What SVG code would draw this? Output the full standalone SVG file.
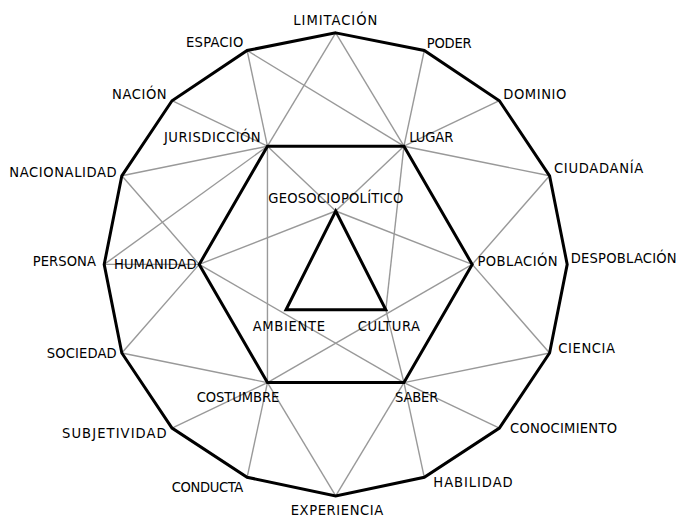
<svg xmlns="http://www.w3.org/2000/svg" width="679" height="517" viewBox="0 0 679 517">
<style>
.bg{fill:#fff}
.c line{stroke:#999;stroke-width:1.4}
.p{fill:none;stroke:#000;stroke-width:3;stroke-linejoin:miter}
text{font-family:"DejaVu Sans Condensed","DejaVu Sans",sans-serif;font-size:14.6px;fill:#000}
</style>
<rect class="bg" width="679" height="517"/>
<g id="connectors" class="c">
<line x1="335.7" y1="32.9" x2="267.45" y2="146.2"/>
<line x1="335.7" y1="32.9" x2="403.95" y2="146.2"/>
<line x1="424.29" y1="50.52" x2="403.95" y2="146.2"/>
<line x1="499.39" y1="100.71" x2="403.95" y2="146.2"/>
<line x1="549.58" y1="175.81" x2="403.95" y2="146.2"/>
<line x1="549.58" y1="175.81" x2="472.2" y2="264.4"/>
<line x1="549.58" y1="352.99" x2="472.2" y2="264.4"/>
<line x1="549.58" y1="352.99" x2="403.95" y2="382.6"/>
<line x1="499.39" y1="428.09" x2="403.95" y2="382.6"/>
<line x1="424.29" y1="477.28" x2="403.95" y2="382.6"/>
<line x1="335.7" y1="495.9" x2="403.95" y2="382.6"/>
<line x1="335.7" y1="495.9" x2="267.45" y2="382.6"/>
<line x1="247.11" y1="477.28" x2="267.45" y2="382.6"/>
<line x1="172.01" y1="428.09" x2="267.45" y2="382.6"/>
<line x1="121.82" y1="352.99" x2="267.45" y2="382.6"/>
<line x1="121.82" y1="352.99" x2="199.2" y2="264.4"/>
<line x1="104.2" y1="264.4" x2="199.2" y2="264.4"/>
<line x1="104.2" y1="264.4" x2="267.45" y2="146.2"/>
<line x1="121.82" y1="175.81" x2="267.45" y2="146.2"/>
<line x1="121.82" y1="175.81" x2="199.2" y2="264.4"/>
<line x1="172.01" y1="100.71" x2="267.45" y2="146.2"/>
<line x1="247.11" y1="50.52" x2="267.45" y2="146.2"/>
<line x1="247.11" y1="50.52" x2="403.95" y2="146.2"/>
<line x1="267.45" y1="146.2" x2="267.45" y2="382.6"/>
<line x1="267.45" y1="146.2" x2="335.7" y2="211"/>
<line x1="403.95" y1="146.2" x2="335.7" y2="211"/>
<line x1="335.7" y1="211" x2="199.2" y2="264.4"/>
<line x1="335.7" y1="211" x2="472.2" y2="264.4"/>
<line x1="403.95" y1="146.2" x2="385.8" y2="309.8"/>
<line x1="385.8" y1="309.8" x2="403.95" y2="382.6"/>
<line x1="199.2" y1="264.4" x2="403.95" y2="382.6"/>
<line x1="472.2" y1="264.4" x2="267.45" y2="382.6"/>
</g>
<g id="outer">
<polygon class="p" points="335.7,32.9 424.29,50.52 499.39,100.71 549.58,175.81 567.2,264.4 549.58,352.99 499.39,428.09 424.29,477.28 335.7,495.9 247.11,477.28 172.01,428.09 121.82,352.99 104.2,264.4 121.82,175.81 172.01,100.71 247.11,50.52"/>
</g>
<g id="hexagon">
<polygon class="p" points="267.45,146.2 403.95,146.2 472.2,264.4 403.95,382.6 267.45,382.6 199.2,264.4"/>
</g>
<g id="triangle">
<polygon class="p" points="335.7,211 385.8,309.8 286,309.8"/>
</g>
<g id="n-limitacion"><text x="293.3" y="25" textLength="84">LIMITACIÓN</text></g>
<g id="n-poder"><text x="426.7" y="48.3" textLength="45">PODER</text></g>
<g id="n-dominio"><text x="503.3" y="99.3" textLength="63">DOMINIO</text></g>
<g id="n-ciudadania"><text x="554" y="173.3" textLength="89.3">CIUDADANÍA</text></g>
<g id="n-despoblacion"><text x="570.7" y="262.7" textLength="106">DESPOBLACIÓN</text></g>
<g id="n-ciencia"><text x="558.3" y="353.3" textLength="56.7">CIENCIA</text></g>
<g id="n-conocimiento"><text x="510" y="433.3" textLength="107">CONOCIMIENTO</text></g>
<g id="n-habilidad"><text x="433.3" y="486.7" textLength="79.4">HABILIDAD</text></g>
<g id="n-experiencia"><text x="290.7" y="514.5" textLength="92.6">EXPERIENCIA</text></g>
<g id="n-conducta"><text x="171.7" y="491.7" textLength="71.6">CONDUCTA</text></g>
<g id="n-subjetividad"><text x="62" y="438.3" textLength="104.7">SUBJETIVIDAD</text></g>
<g id="n-sociedad"><text x="46.7" y="357.7" textLength="70">SOCIEDAD</text></g>
<g id="n-persona"><text x="32.7" y="266" textLength="63.3">PERSONA</text></g>
<g id="n-nacionalidad"><text x="9.3" y="176.7" textLength="107.4">NACIONALIDAD</text></g>
<g id="n-nacion"><text x="112" y="99.3" textLength="54.7">NACIÓN</text></g>
<g id="n-espacio"><text x="186" y="46.7" textLength="57.3">ESPACIO</text></g>
<g id="n-jurisdiccion"><text x="164" y="142.3" textLength="96.7">JURISDICCIÓN</text></g>
<g id="n-lugar"><text x="409.3" y="142.3" textLength="44">LUGAR</text></g>
<g id="n-poblacion"><text x="477.5" y="266.3" textLength="80">POBLACIÓN</text></g>
<g id="n-saber"><text x="395" y="401.7" textLength="43.3">SABER</text></g>
<g id="n-costumbre"><text x="196.7" y="401.7" textLength="82.6">COSTUMBRE</text></g>
<g id="n-humanidad"><text x="114" y="269.3" textLength="82.7">HUMANIDAD</text></g>
<g id="n-geosociopolitico"><text x="268.3" y="202.7" textLength="135">GEOSOCIOPOLÍTICO</text></g>
<g id="n-ambiente"><text x="252.7" y="330.7" textLength="72.3">AMBIENTE</text></g>
<g id="n-cultura"><text x="357.7" y="330.7" textLength="62.3">CULTURA</text></g>
</svg>
